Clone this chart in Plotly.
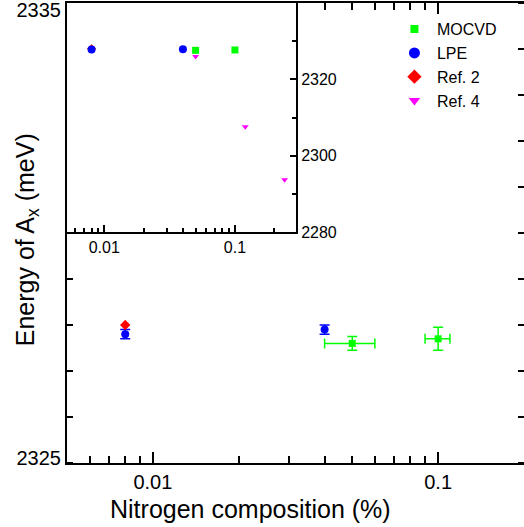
import plotly.graph_objects as go

# ---- data ----
mocvd_x = [0.05, 0.1]
mocvd_y = [2327.6, 2327.7]
mocvd_xerr = [0.01, 0.01]
mocvd_yerr = [0.15, 0.25]

lpe_x = [0.008, 0.04]
lpe_y = [2327.8, 2327.9]
lpe_yerr = [0.1, 0.1]

ref2_x = [0.008]
ref2_y = [2328.0]

ref4_x = [0.05, 0.12, 0.24]
ref4_y = [2326.0, 2307.6, 2293.7]

main_x_ticks = [0.01, 0.1]
main_x_labels = ["0.01", "0.1"]
main_x_minor = [0.006, 0.007, 0.008, 0.009, 0.02, 0.03, 0.04, 0.05, 0.06, 0.07, 0.08, 0.09, 0.2]
main_y_labels = ["2325", "2335"]
inset_y_ticks = [2280, 2300, 2320]
inset_y_labels = ["2280", "2300", "2320"]

GREEN = "#00FF00"
BLUE = "#0000FF"
RED = "#FF0000"
MAGENTA = "#FF00FF"
FONT = "Liberation Sans, Arial, sans-serif"

fig = go.Figure()

# main plot
fig.add_trace(go.Scatter(
    x=mocvd_x, y=mocvd_y, mode="markers", name="MOCVD", showlegend=False,
    marker=dict(symbol="square", size=7, color=GREEN),
    error_x=dict(type="data", array=mocvd_xerr, color=GREEN, thickness=1.5, width=5),
    error_y=dict(type="data", array=mocvd_yerr, color=GREEN, thickness=1.5, width=5),
    xaxis="x", yaxis="y"))
fig.add_trace(go.Scatter(
    x=lpe_x, y=lpe_y, mode="markers", name="LPE", showlegend=False,
    marker=dict(symbol="circle", size=8, color=BLUE),
    error_y=dict(type="data", array=lpe_yerr, color=BLUE, thickness=1.5, width=5),
    xaxis="x", yaxis="y"))
fig.add_trace(go.Scatter(
    x=ref2_x, y=ref2_y, mode="markers", name="Ref. 2", showlegend=False,
    marker=dict(symbol="diamond", size=8, color=RED),
    xaxis="x", yaxis="y"))

# inset
fig.add_trace(go.Scatter(
    x=ref2_x, y=ref2_y, mode="markers", name="Ref. 2", showlegend=False,
    marker=dict(symbol="diamond", size=7, color=RED),
    xaxis="x2", yaxis="y2"))
fig.add_trace(go.Scatter(
    x=lpe_x, y=lpe_y, mode="markers", name="LPE", showlegend=False,
    marker=dict(symbol="circle", size=8, color=BLUE),
    xaxis="x2", yaxis="y2"))
fig.add_trace(go.Scatter(
    x=ref4_x, y=ref4_y, mode="markers", name="Ref. 4", showlegend=False,
    marker=dict(symbol="triangle-down", size=6, color=MAGENTA),
    xaxis="x2", yaxis="y2"))
fig.add_trace(go.Scatter(
    x=mocvd_x, y=mocvd_y, mode="markers", name="MOCVD", showlegend=False,
    marker=dict(symbol="square", size=7, color=GREEN),
    xaxis="x2", yaxis="y2"))

# legend entries
for name, sym, size, col in [("MOCVD", "square", 8, GREEN), ("LPE", "circle", 11, BLUE),
                             ("Ref. 2", "diamond", 11, RED), ("Ref. 4", "triangle-down", 10, MAGENTA)]:
    fig.add_trace(go.Scatter(x=[None], y=[None], mode="markers", name=name,
                             marker=dict(symbol=sym, size=size, color=col),
                             xaxis="x", yaxis="y"))

axis_common = dict(showgrid=False, zeroline=False, showline=True, linecolor="black",
                   linewidth=2, tickcolor="black", tickwidth=1.5, automargin=False,
                   ticklabeloverflow="allow")

fig.update_layout(
    width=524, height=527,
    margin=dict(l=67, r=0, t=3, b=64, autoexpand=False),
    paper_bgcolor="white", plot_bgcolor="white",
    font=dict(family=FONT, color="black"),
    xaxis=dict(type="log", range=[-2.301, -0.699], domain=[0, 1], anchor="y",
               tickmode="array", tickvals=main_x_ticks, ticktext=main_x_labels,
               ticks="inside", ticklen=11, mirror="ticks",
               tickfont=dict(size=20, family=FONT),
               minor=dict(tickmode="array", tickvals=main_x_minor, ticks="inside",
                          ticklen=7, tickcolor="black", tickwidth=1.5),
               **axis_common),
    yaxis=dict(range=[2325, 2335], domain=[0, 1], anchor="x",
               tickmode="array", tickvals=[2325.1, 2334.85], ticktext=main_y_labels,
               ticks="", ticklen=0, mirror="ticks",
               tickfont=dict(size=20, family=FONT),
               minor=dict(tickmode="linear", tick0=2325, dtick=1, ticks="inside",
                          ticklen=6, tickcolor="black", tickwidth=1.5),
               **axis_common),
    xaxis2=dict(type="log", range=[-2.285, -0.533], domain=[0, 0.501], anchor="y2",
                tickmode="array", tickvals=main_x_ticks, ticktext=main_x_labels,
                ticks="inside", ticklen=7,
                tickfont=dict(size=16, family=FONT),
                minor=dict(tickmode="array", tickvals=main_x_minor, ticks="inside",
                           ticklen=4, tickcolor="black", tickwidth=1.5),
                **axis_common),
    yaxis2=dict(range=[2280, 2340], domain=[0.502, 1], anchor="x2", side="right",
                tickmode="array", tickvals=inset_y_ticks, ticktext=inset_y_labels,
                ticks="inside", ticklen=6,
                tickfont=dict(size=16, family=FONT),
                minor=dict(tickmode="linear", tick0=2280, dtick=10, ticks="inside",
                           ticklen=4, tickcolor="black", tickwidth=1.5),
                **axis_common),
    legend=dict(x=0.711, y=0.98, xanchor="left", yanchor="top",
                bgcolor="rgba(0,0,0,0)", font=dict(size=16, family=FONT),
                tracegroupgap=0, itemwidth=35),
    annotations=[
        dict(text="Nitrogen composition (%)", xref="paper", yref="paper",
             x=(250 - 67) / 457, y=-0.1, xanchor="center", yanchor="middle",
             showarrow=False, font=dict(size=25, family=FONT)),
        dict(text="Energy of A<sub>x</sub> (meV)", xref="paper", yref="paper",
             x=-0.087, y=(463 - 240) / 460, xanchor="center", yanchor="middle",
             textangle=-90, showarrow=False, font=dict(size=25, family=FONT)),
    ],
)

fig.write_html("out.html", config={"displayModeBar": False},
               post_script="document.body.style.margin='0';")
